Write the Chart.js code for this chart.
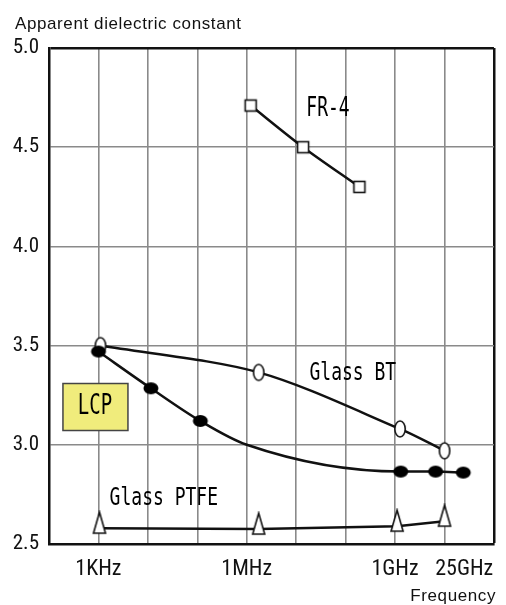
<!DOCTYPE html>
<html>
<head>
<meta charset="utf-8">
<script src="https://cdn.jsdelivr.net/npm/chart.js@4.4.1/dist/chart.umd.min.js"></script>
<style>
  html, body { margin: 0; padding: 0; background: #fff; }
  #wrap { width: 506px; height: 605px; position: relative; }
</style>
</head>
<body>
<div id="wrap"><canvas id="chart"></canvas></div>
<script>
'use strict';

// frequency in Hz -> apparent dielectric constant
const fr4Freq = [1.2e6, 1.38e7, 1.9e8];
const fr4Value = [4.71, 4.50, 4.30];

const glassBtFreq = [1.1e3, 1.74e6, 1.26e9, 1.0e10];
const glassBtValue = [3.50, 3.365, 3.08, 2.97];

const lcpFreq = [1.0e3, 1.15e4, 1.15e5, 1.0e6, 1.3e9, 6.6e9, 2.4e10];
const lcpValue = [3.47, 3.285, 3.12, 3.00, 2.865, 2.865, 2.86];
const lcpMarked = [true, true, true, false, true, true, true];

const ptfeFreq = [1.05e3, 1.74e6, 1.1e9, 1.0e10];
const ptfeValue = [2.58, 2.575, 2.59, 2.615];

const gridDecades = [1e2, 1e3, 1e4, 1e5, 1e6, 1e7, 1e8, 1e9, 1e10, 1e11];
const freqTickValues = [1e3, 1e6, 1e9, 2.5e10];
const freqTickLabels = ['1KHz', '1MHz', '1GHz', '25GHz'];
const yTickValues = [2.5, 3.0, 3.5, 4.0, 4.5, 5.0];

const TICK_FONT = '"Liberation Sans Narrow", "Roboto Condensed", Arial, sans-serif';
const NOTE_FONT = '"DejaVu Sans Mono", monospace';

function toPoints(xs, ys) {
    return xs.map((x, i) => ({x: x, y: ys[i]}));
}

function makeMarker(w, h, draw) {
    const c = document.createElement('canvas');
    c.width = w;
    c.height = h;
    const g = c.getContext('2d');
    g.lineWidth = 1.6;
    g.strokeStyle = '#111';
    g.fillStyle = '#fff';
    draw(g);
    return c;
}

const openCircle = makeMarker(14, 20, g => {
    g.beginPath();
    g.ellipse(7, 10, 5.2, 8, 0, 0, Math.PI * 2);
    g.fill();
    g.stroke();
});

const filledDot = makeMarker(18, 16, g => {
    g.fillStyle = '#000';
    g.beginPath();
    g.ellipse(9, 8, 7.5, 6, 0, 0, Math.PI * 2);
    g.fill();
});

const openSquare = makeMarker(16, 16, g => {
    g.fillRect(2.5, 2.5, 11, 11);
    g.strokeRect(2.5, 2.5, 11, 11);
});

const openTriangle = makeMarker(16, 36, g => {
    g.beginPath();
    g.moveTo(8, 2);
    g.lineTo(14, 23);
    g.lineTo(2, 23);
    g.closePath();
    g.fill();
    g.stroke();
});

function tallText(ctx, text, cx, cy, size, stretch) {
    ctx.save();
    ctx.translate(cx, cy);
    ctx.scale(1, stretch);
    ctx.font = size + 'px ' + NOTE_FONT;
    ctx.fillStyle = '#000';
    ctx.textAlign = 'center';
    ctx.textBaseline = 'middle';
    ctx.fillText(text, 0, 0);
    ctx.restore();
}

const notesPlugin = {
    id: 'notes',
    afterDatasetsDraw(chart) {
        const ctx = chart.ctx;
        const xs = chart.scales.x;
        const ys = chart.scales.y;

        tallText(ctx, 'FR-4', xs.getPixelForValue(4.4e7), ys.getPixelForValue(4.69), 18, 1.45);
        tallText(ctx, 'Glass BT', xs.getPixelForValue(1.4e8), ys.getPixelForValue(3.357), 18, 1.35);
        tallText(ctx, 'Glass PTFE', xs.getPixelForValue(2.1e4), ys.getPixelForValue(2.727), 18, 1.35);

        // yellow LCP box
        const bx = xs.getPixelForValue(850);
        const by = ys.getPixelForValue(3.193);
        ctx.save();
        ctx.fillStyle = '#f0ec7c';
        ctx.strokeStyle = '#444';
        ctx.lineWidth = 1.5;
        ctx.fillRect(bx - 32, by - 23, 65, 47);
        ctx.strokeRect(bx - 32, by - 23, 65, 47);
        ctx.restore();
        tallText(ctx, 'LCP', bx, by, 19, 1.5);
    },
    afterDraw(chart) {
        const ctx = chart.ctx;
        ctx.save();
        ctx.fillStyle = '#111';
        ctx.font = '17px "Liberation Sans", Arial, sans-serif';
        ctx.letterSpacing = '0.6px';
        ctx.textBaseline = 'alphabetic';
        ctx.textAlign = 'left';
        ctx.fillText('Apparent dielectric constant', 15, 29);
        ctx.textAlign = 'right';
        ctx.fillText('Frequency', 496, 601);
        ctx.restore();
    }
};

const lineBase = {
    borderColor: '#111',
    borderWidth: 2.5,
    fill: false,
    pointRadius: 5,
    pointHoverRadius: 5
};

const chart = new Chart(document.getElementById('chart'), {
    type: 'line',
    data: {
        datasets: [
            Object.assign({}, lineBase, {
                label: 'FR-4',
                data: toPoints(fr4Freq, fr4Value),
                pointStyle: openSquare,
                tension: 0.3
            }),
            Object.assign({}, lineBase, {
                label: 'LCP',
                data: toPoints(lcpFreq, lcpValue),
                pointStyle: filledDot,
                pointRadius: ctx => lcpMarked[ctx.dataIndex] ? 5 : 0,
                cubicInterpolationMode: 'monotone'
            }),
            Object.assign({}, lineBase, {
                label: 'Glass BT',
                data: toPoints(glassBtFreq, glassBtValue),
                pointStyle: openCircle,
                tension: 0.3
            }),
            Object.assign({}, lineBase, {
                label: 'Glass PTFE',
                data: toPoints(ptfeFreq, ptfeValue),
                pointStyle: openTriangle,
                tension: 0
            })
        ]
    },
    options: {
        responsive: true,
        maintainAspectRatio: false,
        animation: false,
        layout: { padding: { top: 48, right: 7, left: 0, bottom: 0 } },
        plugins: {
            legend: { display: false },
            tooltip: { enabled: false },
            title: { display: false }
        },
        scales: {
            x: {
                type: 'logarithmic',
                position: 'bottom',
                min: 1e2,
                max: 1e11,
                afterBuildTicks: s => { s.ticks = gridDecades.map(v => ({value: v})); },
                ticks: { display: false },
                grid: {
                    drawTicks: false,
                    color: c => (c.tick && c.tick.value === 1e11) ? '#111' : '#8a8a8a',
                    lineWidth: c => (c.tick && c.tick.value === 1e11) ? 2.5 : 1.6
                },
                border: { color: '#111', width: 2.5 },
                afterFit: s => { s.height = 0; }
            },
            xLabels: {
                type: 'logarithmic',
                position: 'bottom',
                min: 1e2,
                max: 1e11,
                afterBuildTicks: s => { s.ticks = freqTickValues.map(v => ({value: v})); },
                ticks: {
                    autoSkip: false,
                    maxRotation: 0,
                    padding: 12,
                    color: '#111',
                    font: { family: TICK_FONT, size: 22 },
                    callback: (v, i) => freqTickLabels[i]
                },
                grid: { display: false, drawTicks: false },
                border: { display: false },
                afterFit: s => { s.height = 61; }
            },
            y: {
                min: 2.5,
                max: 5.0,
                afterBuildTicks: s => { s.ticks = yTickValues.map(v => ({value: v})); },
                ticks: {
                    padding: 10,
                    color: '#111',
                    font: { family: TICK_FONT, size: 21 },
                    callback: v => Number(v).toFixed(1)
                },
                grid: {
                    drawTicks: false,
                    color: c => (c.tick && c.tick.value === 5) ? '#111' : '#8a8a8a',
                    lineWidth: c => (c.tick && c.tick.value === 5) ? 2.5 : 1.6
                },
                border: { color: '#111', width: 2.5 },
                afterFit: s => { s.width = 49; }
            }
        }
    },
    plugins: [notesPlugin]
});
</script>
</body>
</html>
